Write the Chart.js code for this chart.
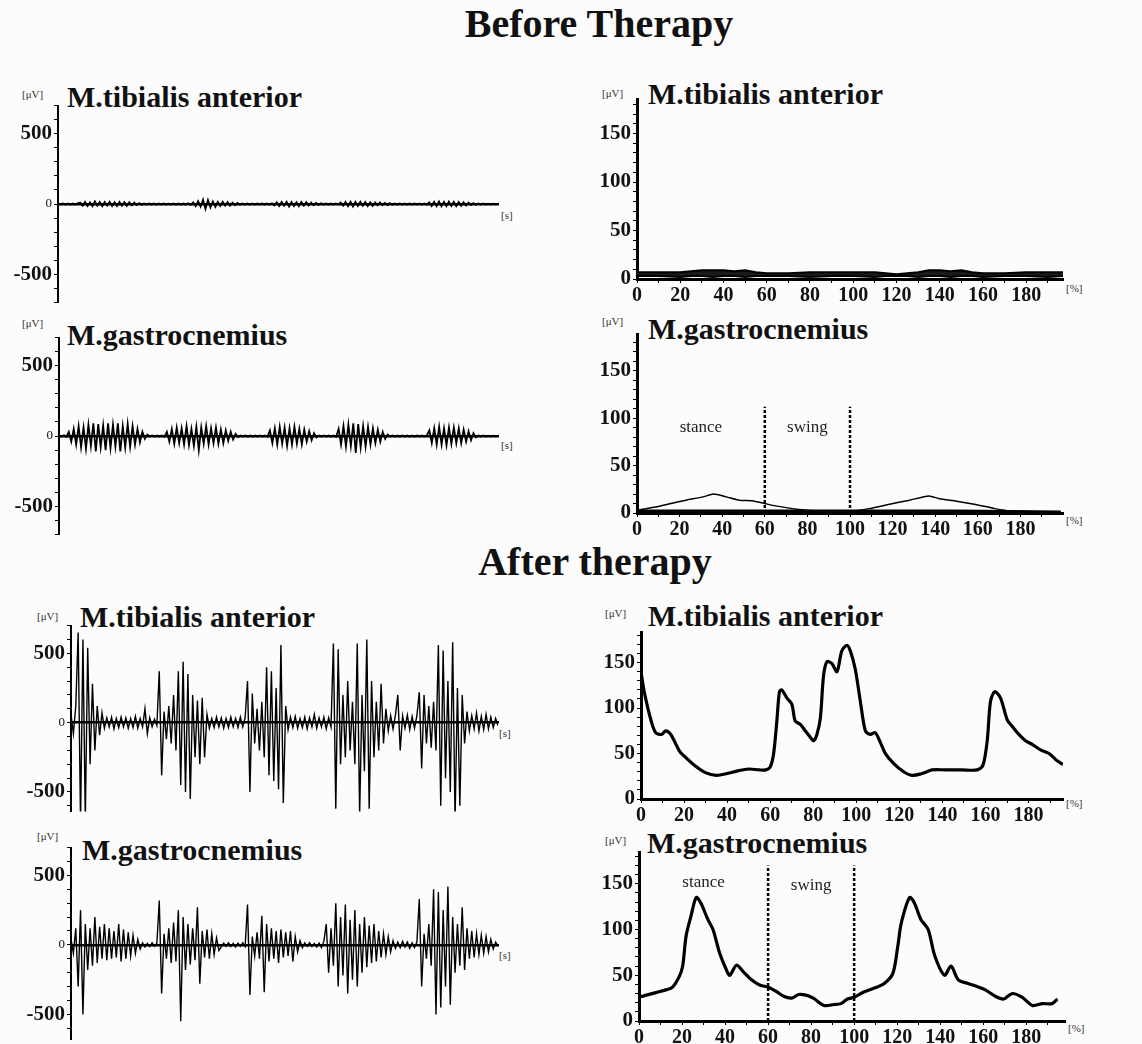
<!DOCTYPE html>
<html>
<head>
<meta charset="utf-8">
<script src="https://cdn.jsdelivr.net/npm/chart.js@4"></script>
<style>
body { margin:0; background:#fcfcfc; width:1142px; height:1044px; position:relative; overflow:hidden; font-family:"Liberation Serif","Times New Roman",serif; }
.t { position:absolute; white-space:nowrap; color:#111; line-height:1; }
.main { font-size:40px; font-weight:bold; transform:translateX(-50%); }
.name { font-size:30px; font-weight:bold; }
.unit { font-size:11px; color:#333; }
canvas { position:absolute; }
</style>
</head>
<body>
<div class="t main" style="left:599px;top:4px">Before Therapy</div>
<div class="t main" style="left:595px;top:542px">After therapy</div>

<div class="t name" style="left:67px;top:82px">M.tibialis anterior</div>
<div class="t name" style="left:67px;top:320px">M.gastrocnemius</div>
<div class="t name" style="left:80px;top:602px">M.tibialis anterior</div>
<div class="t name" style="left:82px;top:835px">M.gastrocnemius</div>
<div class="t name" style="left:648px;top:79px">M.tibialis anterior</div>
<div class="t name" style="left:648px;top:314px">M.gastrocnemius</div>
<div class="t name" style="left:648px;top:601px">M.tibialis anterior</div>
<div class="t name" style="left:647px;top:828px">M.gastrocnemius</div>

<div class="t unit" style="left:22px;top:89px">[μV]</div>
<div class="t unit" style="left:22px;top:318px">[μV]</div>
<div class="t unit" style="left:37px;top:611px">[μV]</div>
<div class="t unit" style="left:37px;top:831px">[μV]</div>
<div class="t unit" style="left:602px;top:88px">[μV]</div>
<div class="t unit" style="left:602px;top:316px">[μV]</div>
<div class="t unit" style="left:605px;top:608px">[μV]</div>
<div class="t unit" style="left:605px;top:835px">[μV]</div>

<div class="t unit" style="left:501px;top:210px">[s]</div>
<div class="t unit" style="left:501px;top:440px">[s]</div>
<div class="t unit" style="left:499px;top:728px">[s]</div>
<div class="t unit" style="left:499px;top:950px">[s]</div>
<div class="t unit" style="left:1066px;top:283px">[%]</div>
<div class="t unit" style="left:1066px;top:515px">[%]</div>
<div class="t unit" style="left:1066px;top:798px">[%]</div>
<div class="t unit" style="left:1068px;top:1023px">[%]</div>

<canvas id="rawBeforeTa"></canvas>
<canvas id="rawBeforeGa"></canvas>
<canvas id="rawAfterTa"></canvas>
<canvas id="rawAfterGa"></canvas>
<canvas id="envBeforeTa"></canvas>
<canvas id="envBeforeGa"></canvas>
<canvas id="envAfterTa"></canvas>
<canvas id="envAfterGa"></canvas>

<script>
var SERIF = '"Liberation Serif", "Times New Roman", serif';
Chart.defaults.font.family = SERIF;
Chart.defaults.color = '#111';

// raw EMG (uV), one value per sample, left to right
var beforeTaRaw = [3,-3,4,-3,3,-4,3,-3,4,
  10,-12,15,-14,12,-15,18,-13,15,-16,14,-12,16,-15,13,-14,15,-12,14,-13,12,-10,10,-8,6,-5,
  3,-3,4,-3,3,-4,3,-3,4,-3,3,-3,4,-3,3,-4,3,-3,5,-6,
  12,-15,20,-18,30,-35,28,-25,18,-20,15,-14,16,-12,13,-12,10,-9,7,-5,
  3,-3,4,-3,3,-4,3,-3,4,-3,3,-4,5,
  -10,12,-14,15,-13,16,-18,14,-15,13,-16,14,-12,13,-11,10,-9,8,-6,5,
  -3,3,-4,3,-3,4,-3,
  10,-12,14,-15,16,-18,15,-14,16,-13,14,-15,12,-13,11,-10,12,-9,8,-7,6,-5,
  3,-3,4,-3,3,-4,3,-3,4,-3,3,-4,3,-5,
  12,-14,16,-15,18,-17,15,-16,17,-14,16,-15,14,-13,12,-11,10,-8,6,-5,
  3,-3,4,-3,3,-3,2,-2,1];

var beforeGaRaw = [3,-4,5,-6,
  30,-40,50,-60,70,-80,60,-90,80,-70,90,-110,85,-80,75,-100,90,-85,80,-75,90,-110,70,-80,85,-75,70,-60,50,-45,30,-20,10,
  -4,3,-3,4,-3,3,-5,
  30,-40,50,-55,60,-50,55,-60,70,-65,50,-70,65,-100,60,-55,70,-60,55,-50,60,-55,45,-50,40,-35,30,-25,15,-8,
  3,-3,4,-3,3,-4,3,-3,4,-3,3,-5,
  40,-50,55,-60,65,-55,60,-70,55,-60,65,-55,50,-60,45,-40,35,-30,20,-10,
  3,-3,4,-3,3,-4,3,-5,
  50,-60,70,-75,80,-70,90,-120,85,-80,70,-75,65,-60,55,-50,45,-40,30,-20,10,
  -3,3,-4,3,-3,4,-3,3,-4,3,-3,4,-3,3,-4,5,
  40,-50,55,-60,65,-60,55,-65,60,-55,60,-50,55,-50,45,-40,35,-30,20,-10,
  3,-3,4,-3,3,-3,2,-2,1];

var afterTaRaw = [60,-80,120,650,-720,600,-700,540,-300,280,-200,120,-90,70,
  -40,35,-30,40,-45,30,-35,40,-30,35,-40,30,-35,45,-40,30,-30,100,-80,35,-30,25,-20,
  370,-380,80,-120,120,-150,200,-200,370,-450,440,-500,350,-550,200,-250,160,-300,180,-250,60,
  -40,30,-35,40,-30,35,-40,30,-35,40,-30,30,-35,40,-30,35,
  300,-500,210,-150,100,-200,150,-250,400,-380,370,-420,250,-480,560,-580,120,
  -50,40,-35,45,-40,30,-35,40,-45,35,-30,60,-40,35,-30,40,-45,35,-30,
  570,-620,530,-300,200,-250,300,-200,150,-300,570,-660,200,-350,600,-620,300,-250,150,-200,280,-150,100,
  -60,50,-45,55,200,-200,50,-40,55,-50,45,-40,50,
  220,-330,200,-150,120,-180,150,-200,560,-600,520,-400,300,-500,580,-700,250,-600,200,-150,
  80,-60,50,-45,70,-60,45,-50,60,-45,40,-35,30,-20];

var afterGaRaw = [40,-60,120,-300,250,-500,150,-180,120,-150,200,-130,130,-100,150,-110,120,-100,100,-90,150,-120,110,-100,90,-80,70,-60,40,-30,
  15,-15,10,-12,15,-10,12,
  320,-350,80,-100,120,-130,160,-120,250,-550,200,-180,150,-140,120,-110,270,-280,100,-90,110,-100,80,-70,50,-40,
  -15,12,-10,15,-12,10,-15,12,-10,15,-12,
  290,-360,60,-80,90,-100,210,-340,150,-120,120,-100,100,-130,110,-90,90,-80,100,-120,60,-50,30,
  -20,15,-10,15,-12,10,-15,12,-20,25,
  150,-200,120,-150,300,-300,200,-220,290,-350,180,-250,250,-300,150,-200,200,-160,140,-130,150,-120,100,-90,80,-70,60,-50,
  30,-25,20,-20,25,-15,20,-25,15,-20,20,
  330,-300,80,-100,150,-150,400,-500,380,-450,250,-300,420,-430,200,-200,150,-150,270,-180,120,-100,100,-90,80,-70,70,-60,60,-50,40,-30,20,-10];

// linear envelopes, x in % of gait cycle
var beforeTaCycle = [0,10,20,25,30,35,40,45,50,55,60,70,80,90,100,110,115,120,125,130,135,140,145,150,155,160,170,180,190,197];
var beforeTaUpper = [7,7,7,8,9,9,9,8,9,7,6,6,7,7,7,7,6,5,6,7,9,9,8,9,7,6,6,7,7,7];
var beforeTaLower = [3,3,2,3,3,2,3,3,2,3,3,3,2,3,3,2,3,3,3,2,3,3,2,3,3,2,3,3,2,3];

var beforeGaCycle = [0,8,16,23,31,36,42,48,54,60,65,75,86,100,109,118,128,137,142,150,159,168,176,187,199];
var beforeGaEnv = [3,6,10,13.5,17,20,17,13.5,13,10,7.5,4,2,2,4.6,9,13.5,18,15,12.5,9,4.6,2,1.4,0.7];
var beforeGaBaseCycle = [0,50,100,150,199];
var beforeGaBase = [2,2,2,2,1];

var afterTaCycle = [0,1.5,4.7,6.8,9.6,11.5,13.8,17.8,19.7,24.8,29.9,35,40,45,50,55,58,
  60,61.6,63.1,64.3,65.4,67.8,70.1,71.6,74,76.3,78.6,80.1,81.7,83.3,84.8,86.4,88.7,91,93.3,95.7,97.2,99.5,
  101.9,104.2,106.5,108.8,111.2,113.5,117.4,122,125.9,130.5,135.2,141.4,149.1,156.1,158.8,160.8,162.3,164.3,
  167,170.1,172.4,175.5,178.6,181.7,185.6,189.5,193.3,196];
var afterTaEnv = [140,118,86,73,71,75,71,53,48,37,29,26,28,31,33,32,32,
  35,50,86,118,120,111,104,86,82,75,68,64,71,89,136,151,149,140,163,169,163,143,
  107,75,71,73,62,50,39,30,26,28,32,32,32,32,37,64,107,118,
  111,87,80,71,64,60,54,50,42,38];

var afterGaCycle = [0,7.8,12.5,15.6,18.8,20.3,21.9,24.2,26.6,28.9,32,34.4,37.5,40.6,42.2,45.3,48.4,52.3,56.3,60.2,64,67.2,71,74.2,78,81,86,90.6,93.8,96.9,
  100,104.7,109.4,114,118,120.3,121.9,125.8,128,131,134.4,137.5,142,145,148.4,153,158,161,165.6,169.5,173.4,178,182.8,187.5,192,194.5];
var afterGaEnv = [26,31,34,37,49,60,93,115,135,128,111,100,74,56,50,61,54,45,39,37,32,27,25,29,28,25,17,18,19,24,
  26,32,36,41,52,82,107,135,129,111,100,71,50,60,45,41,37,34,27,24,30,26,17,19,19,24];

// gait phase markers
var phaseLines = [60, 100];
var phaseNames = ['stance', 'swing'];
var phaseNameX = [30, 80];

var rawTickVals = [-700,-600,-500,-400,-300,-200,-100,0,100,200,300,400,500,600,700];
var rawTickLabels = [-500, 0, 500];
var envYTickVals = [0,10,20,30,40,50,60,70,80,90,100,110,120,130,140,150,160,170,180];
var envYTickLabels = [0, 50, 100, 150];
var envXTickVals = [0,10,20,30,40,50,60,70,80,90,100,110,120,130,140,150,160,170,180,190];
var envXTickLabels = [0,20,40,60,80,100,120,140,160,180];

function pts(xs, ys) {
  return ys.map(function (y, i) { return { x: xs[i], y: y }; });
}

function tickBuilder(vals, lo, hi) {
  return function (s) {
    s.ticks = vals.filter(function (v) { return v >= lo && v <= hi; })
                  .map(function (v) { return { value: v }; });
  };
}

function labelOnly(list) {
  return function (v) { return list.indexOf(v) >= 0 ? String(v) : ''; };
}

var phaseLabelPlugin = {
  id: 'phaseLabels',
  afterDatasetsDraw: function (chart, args, opts) {
    if (!opts.y) return;
    var ctx = chart.ctx, xs = chart.scales.x, ys = chart.scales.y;
    ctx.save();
    ctx.font = '17px ' + SERIF;
    ctx.fillStyle = '#222';
    ctx.textAlign = 'center';
    ctx.textBaseline = 'middle';
    phaseNames.forEach(function (name, i) {
      ctx.fillText(name, xs.getPixelForValue(phaseNameX[i]), ys.getPixelForValue(opts.y[i]));
    });
    ctx.restore();
  }
};

// box = plot area in page pixels: left, top, right, bottom
function rawPanel(id, values, yMin, yMax, box, width) {
  var yw = 55, padT = 14, padB = 14, padR = 8;
  var cv = document.getElementById(id);
  cv.width = box[2] - box[0] + yw + padR;
  cv.height = box[3] - box[1] + padT + padB;
  cv.style.left = (box[0] - yw) + 'px';
  cv.style.top = (box[1] - padT) + 'px';
  new Chart(cv, {
    type: 'line',
    data: {
      datasets: [{
        data: values.map(function (v, i) { return { x: i, y: v }; }),
        borderColor: '#000', borderWidth: width, pointRadius: 0, tension: 0, fill: false
      }]
    },
    options: {
      responsive: false, animation: false, events: [],
      layout: { padding: { top: padT, bottom: padB, right: padR, left: 0 } },
      plugins: { legend: { display: false }, tooltip: { enabled: false } },
      scales: {
        x: {
          type: 'linear', min: 0, max: values.length - 1, position: { y: 0 },
          ticks: { display: false }, grid: { display: false },
          border: { display: true, color: '#000', width: 2.5 }
        },
        y: {
          min: yMin, max: yMax,
          afterBuildTicks: tickBuilder(rawTickVals, yMin, yMax),
          afterFit: function (s) { s.width = yw; },
          ticks: {
            callback: labelOnly(rawTickLabels), padding: 2, color: '#111', autoSkip: false,
            font: function (c) {
              return c.tick && c.tick.value === 0 ? { size: 13, weight: 'normal' } : { size: 21, weight: 'bold' };
            }
          },
          grid: { drawOnChartArea: false, drawTicks: true, tickLength: 4, color: '#000', lineWidth: 1 },
          border: { display: true, color: '#000', width: 2 }
        }
      }
    }
  });
}

function envPanel(id, datasets, xMax, yMax, box, phaseY) {
  var yw = 50, xh = 32, padT = 14, padR = 8;
  var cv = document.getElementById(id);
  cv.width = box[2] - box[0] + yw + padR;
  cv.height = box[3] - box[1] + padT + xh;
  cv.style.left = (box[0] - yw) + 'px';
  cv.style.top = (box[1] - padT) + 'px';
  new Chart(cv, {
    type: 'line',
    data: { datasets: datasets },
    plugins: [phaseLabelPlugin],
    options: {
      responsive: false, animation: false, events: [],
      layout: { padding: { top: padT, right: padR, left: 0, bottom: 0 } },
      plugins: { legend: { display: false }, tooltip: { enabled: false }, phaseLabels: { y: phaseY } },
      elements: { point: { radius: 0 } },
      scales: {
        x: {
          type: 'linear', min: 0, max: xMax,
          afterBuildTicks: tickBuilder(envXTickVals, 0, xMax),
          afterFit: function (s) { s.height = xh; },
          ticks: { callback: labelOnly(envXTickLabels), padding: 1, maxRotation: 0, autoSkip: false,
                   font: { size: 20, weight: 'bold' }, color: '#111' },
          grid: { drawOnChartArea: false, drawTicks: true, tickLength: 4, color: '#000', lineWidth: 1 },
          border: { display: true, color: '#000', width: 3 }
        },
        y: {
          min: 0, max: yMax,
          afterBuildTicks: tickBuilder(envYTickVals, 0, yMax),
          afterFit: function (s) { s.width = yw; },
          ticks: { callback: labelOnly(envYTickLabels), padding: 2, autoSkip: false,
                   font: { size: 21, weight: 'bold' }, color: '#111' },
          grid: { drawOnChartArea: false, drawTicks: true, tickLength: 4, color: '#000', lineWidth: 1 },
          border: { display: true, color: '#000', width: 3 }
        }
      }
    }
  });
}

function line(data, width, tension) {
  return { data: data, borderColor: '#000', borderWidth: width, pointRadius: 0, tension: tension, fill: false };
}

function phaseSets(top) {
  return phaseLines.map(function (x) {
    return { data: [{ x: x, y: 0 }, { x: x, y: top }], borderColor: '#000', borderWidth: 2.5,
             borderDash: [3, 2], pointRadius: 0, fill: false };
  });
}

rawPanel('rawBeforeTa', beforeTaRaw, -700, 700, [58, 104.6, 498, 303.4], 1.8);
rawPanel('rawBeforeGa', beforeGaRaw, -700, 700, [59, 336.6, 498, 535.4], 1.8);
rawPanel('rawAfterTa', afterTaRaw, -640, 700, [71, 625, 498, 812.6], 1.4);
rawPanel('rawAfterGa', afterGaRaw, -680, 700, [71, 847, 498, 1040], 1.4);

envPanel('envBeforeTa', [
  line(pts(beforeTaCycle, beforeTaLower), 2, 0),
  { data: pts(beforeTaCycle, beforeTaUpper), borderColor: '#000', borderWidth: 2, pointRadius: 0,
    tension: 0, fill: '-1', backgroundColor: '#1a1a1a' }
], 197, 185, [637, 99, 1063, 279], null);

envPanel('envBeforeGa', [
  line(pts(beforeGaCycle, beforeGaEnv), 1.5, 0.2),
  line(pts(beforeGaBaseCycle, beforeGaBase), 3, 0)
].concat(phaseSets(112)), 200, 188, [637, 334, 1063, 513], [90, 90]);

envPanel('envAfterTa', [
  line(pts(afterTaCycle, afterTaEnv), 3.2, 0.3)
], 196, 183, [641, 632, 1063, 799], null);

envPanel('envAfterGa', [
  line(pts(afterGaCycle, afterGaEnv), 3.2, 0.3)
].concat(phaseSets(170)), 198, 184, [639, 852, 1065, 1021], [151, 148]);
</script>
</body>
</html>
